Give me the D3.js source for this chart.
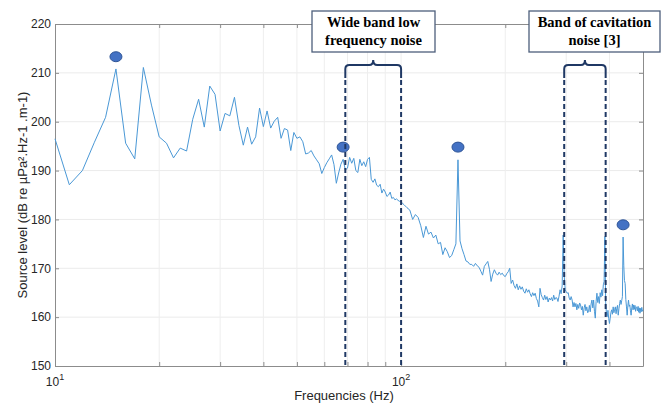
<!DOCTYPE html>
<html>
<head>
<meta charset="utf-8">
<script src="https://cdn.jsdelivr.net/npm/d3@7"></script>
<style>
  body { margin: 0; background: #fff; }
  svg { display: block; }
</style>
</head>
<body>
<div class="chart"></div>
<script>
// source level spectrum, 1 Hz bins from 10 to 99 Hz
const lowLevels = [
  196.5, 187.1, 190.0, 195.8, 200.9, 210.8, 195.6, 192.4, 211.1, 203.4,
  196.9, 195.6, 192.6, 194.6, 194.0, 200.5, 204.6, 198.9, 207.3, 205.6,
  198.1, 201.7, 201.2, 205.0, 199.2, 195.2, 198.9, 195.4, 196.9, 202.8,
  199.0, 202.2, 198.7, 200.1, 200.9, 196.6, 198.6, 198.3, 194.1, 197.8,
  196.6, 196.9, 195.9, 193.4, 193.6, 194.1, 193.0, 192.2, 191.4, 189.4,
  190.6, 191.6, 192.4, 193.2, 191.2, 187.4, 189.5, 191.3, 192.3, 190.1,
  190.5, 192.7, 191.5, 192.5, 190.0, 189.6, 192.3, 191.0, 191.8, 190.8,
  192.3, 192.7, 188.2, 187.6, 188.3, 187.0, 186.7, 187.2, 185.4, 186.2,
  185.6, 184.7, 185.0, 185.6, 184.3, 184.5, 184.0, 184.2, 183.9, 183.7
]
// 2 Hz bins from 100 to 160 Hz
const midLevels = [
  183.6, 183.0, 182.4, 181.9, 180.0, 181.0, 180.4, 178.7, 176.3, 178.6,
  177.0, 177.4, 176.2, 176.8, 175.0, 175.3, 172.8, 174.2, 173.4, 172.2,
  172.6, 173.8, 175.0, 192.2, 175.6, 174.0, 172.8, 171.5, 171.3, 170.8,
  170.8
]
// 2 Hz bins from 162 to 300 Hz
const upperLevels = [
  170.4, 171.0, 170.5, 170.2, 169.4, 168.6, 170.4, 170.9, 171.4, 169.8,
  167.3, 168.8, 169.7, 169.0, 168.6, 169.2, 168.7, 169.0, 168.5, 168.3,
  168.9, 169.3, 170.0, 166.9, 167.6, 166.5, 165.9, 166.8, 165.6, 166.4,
  165.7, 166.2, 165.3, 164.9, 165.8, 165.1, 165.6, 164.8, 164.2, 165.0,
  164.4, 164.9, 163.8, 163.3, 162.1, 165.9, 164.6, 164.0, 163.5, 164.5,
  163.6, 164.2, 163.1, 163.9, 163.5, 164.0, 163.3, 164.5, 163.6, 164.0,
  163.9, 163.2, 164.3, 165.6, 164.8, 166.4, 176.8, 168.5, 165.6, 165.2
]
// 2 Hz bins from 302 to 500 Hz
const highLevels = [
  164.9, 165.0, 163.9, 163.5, 164.2, 163.5, 162.1, 163.0, 162.1, 162.8,
  161.5, 162.6, 161.8, 162.9, 162.5, 161.5, 162.2, 160.4, 161.9, 162.6,
  161.3, 162.1, 160.9, 161.1, 162.4, 161.1, 162.7, 163.5, 161.9, 163.5,
  161.2, 159.8, 163.2, 164.9, 163.0, 164.2, 162.8, 165.0, 164.1, 165.6,
  164.4, 166.6, 167.3, 176.5, 163.0, 160.8, 160.1, 161.4, 159.7, 158.7,
  159.8, 161.0, 161.5, 160.6, 162.1, 160.9, 161.6, 162.1, 160.7, 161.8,
  162.4, 160.4, 161.7, 162.8, 163.5, 162.6, 163.4, 164.2, 176.4, 170.5,
  167.5, 166.9, 163.6, 162.1, 160.4, 162.3, 163.5, 162.2, 162.5, 161.3,
  160.4, 161.9, 162.7, 161.5, 162.5, 161.6, 162.4, 161.2, 162.0, 162.1,
  161.3, 162.2, 161.0, 161.9, 160.8, 161.8, 161.1, 162.0, 161.2, 161.5
]

const peakFreqs = [15, 68, 146, 438]
const peakLevels = [213.3, 194.8, 194.8, 178.9]

const bandEdges = [[69, 100], [296, 390]]
const bandLabels = [["Wide band low", "frequency noise"], ["Band of cavitation", "noise [3]"]]

const yTicks = [150, 160, 170, 180, 190, 200, 210, 220]
const xGridTicks = [20, 30, 40, 50, 60, 70, 80, 90, 100, 200, 300, 400]
const xLabelTicks = [10, 100]

const spectrum = [
  ...d3.range(10, 100).map((f, i) => [f, lowLevels[i]]),
  ...d3.range(100, 161, 2).map((f, i) => [f, midLevels[i]]),
  ...d3.range(162, 301, 2).map((f, i) => [f, upperLevels[i]]),
  ...d3.range(302, 501, 2).map((f, i) => [f, highLevels[i]])
]

const W = 662, H = 404
const mLeft = 55, mRight = 643, mTop = 24, mBottom = 366
const axisColor = "#8c8c8c"
const textColor = "#262626"
const navy = "#1f3864"

const x = d3.scaleLog().domain([10, 500]).range([mLeft, mRight])
const y = d3.scaleLinear().domain([150, 220]).range([mBottom, mTop])

const svg = d3.select(".chart").append("svg")
  .attr("width", W).attr("height", H)
  .style("font-family", "'Liberation Sans', Arial, sans-serif")

// grid
svg.append("g")
  .selectAll("line").data(yTicks.slice(1, -1)).enter().append("line")
  .attr("x1", mLeft).attr("x2", mRight)
  .attr("y1", d => y(d)).attr("y2", d => y(d))
  .attr("stroke", "#ebebeb")
svg.append("g")
  .selectAll("line").data(xGridTicks).enter().append("line")
  .attr("y1", mTop).attr("y2", mBottom)
  .attr("x1", d => x(d)).attr("x2", d => x(d))
  .attr("stroke", "#eeeeee")

// axes (MATLAB-style inward ticks, box on)
const styleAxis = g => {
  g.select(".domain").attr("stroke", axisColor)
  g.selectAll(".tick line").attr("stroke", axisColor)
  g.selectAll(".tick text").attr("fill", textColor).style("font-size", "12px")
}

svg.append("g")
  .attr("transform", `translate(${mLeft},0)`)
  .call(d3.axisLeft(y).tickValues(yTicks).tickSizeInner(-4).tickSizeOuter(0).tickPadding(4))
  .call(styleAxis)

svg.append("g")
  .attr("transform", `translate(${mRight},0)`)
  .call(d3.axisRight(y).tickValues(yTicks).tickSizeInner(-4).tickSizeOuter(0).tickFormat(""))
  .call(styleAxis)

svg.append("g")
  .attr("transform", `translate(0,${mTop})`)
  .call(d3.axisTop(x).tickValues(xGridTicks).tickSizeInner(-4).tickSizeOuter(0).tickFormat(""))
  .call(styleAxis)

const xAxis = svg.append("g")
  .attr("transform", `translate(0,${mBottom})`)
  .call(d3.axisBottom(x).tickValues(xGridTicks).tickSizeInner(-4).tickSizeOuter(0).tickFormat(""))
  .call(styleAxis)

// 10^1, 10^2 labels
xAxis.selectAll("text.pow").data(xLabelTicks).enter().append("text")
  .attr("class", "pow")
  .attr("x", d => x(d))
  .attr("y", 20)
  .attr("text-anchor", "middle")
  .attr("fill", textColor)
  .style("font-size", "12px")
  .each(function(d){
    const t = d3.select(this)
    t.append("tspan").text("10")
    t.append("tspan").attr("dy", -6).style("font-size", "9px").text(Math.round(Math.log10(d)))
  })

// axis titles
svg.append("text")
  .attr("x", (mLeft + mRight) / 2 - 5)
  .attr("y", 400)
  .attr("text-anchor", "middle")
  .attr("fill", textColor)
  .style("font-size", "13px")
  .text("Frequencies (Hz)")

svg.append("text")
  .attr("transform", `translate(27,${(mTop + mBottom) / 2}) rotate(-90)`)
  .attr("text-anchor", "middle")
  .attr("fill", textColor)
  .style("font-size", "13px")
  .text("Source level (dB re µPa².Hz-1 .m-1)")

// spectrum line
const line = d3.line().x(d => x(d[0])).y(d => y(d[1]))
svg.append("path")
  .datum(spectrum)
  .attr("d", line)
  .attr("fill", "none")
  .attr("stroke", "#4a98d6")
  .attr("stroke-width", 1)
  .attr("stroke-linejoin", "round")

// peak markers
svg.selectAll("ellipse.peak")
  .data(peakFreqs.map((f, i) => [f, peakLevels[i]]))
  .enter().append("ellipse")
  .attr("cx", d => x(d[0]))
  .attr("cy", d => y(d[1]))
  .attr("rx", 6).attr("ry", 5)
  .attr("fill", "#4472c4")
  .attr("stroke", "#2f5597")
  .attr("stroke-width", 1)

// band annotations
const braceTop = 65, braceEnd = 78, braceTip = 60
const boxes = [{x: 312, w: 123}, {x: 529, w: 131}]
const boxTop = 11, boxH = 41

bandEdges.forEach((b, i) => {
  const xa = x(b[0]), xb = x(b[1]), xm = (xa + xb) / 2

  svg.selectAll(null).data(b).enter().append("line")
    .attr("x1", d => x(d)).attr("x2", d => x(d))
    .attr("y1", braceEnd + 2).attr("y2", mBottom)
    .attr("stroke", navy)
    .attr("stroke-width", 2)
    .attr("stroke-dasharray", "5,3")

  const p = d3.path()
  p.moveTo(xa, braceEnd)
  p.lineTo(xa, braceTop + 4)
  p.quadraticCurveTo(xa, braceTop, xa + 4, braceTop)
  p.lineTo(xm - 4, braceTop)
  p.quadraticCurveTo(xm, braceTop, xm, braceTip)
  p.quadraticCurveTo(xm, braceTop, xm + 4, braceTop)
  p.lineTo(xb - 4, braceTop)
  p.quadraticCurveTo(xb, braceTop, xb, braceTop + 4)
  p.lineTo(xb, braceEnd)
  svg.append("path")
    .attr("d", p.toString())
    .attr("fill", "none")
    .attr("stroke", navy)
    .attr("stroke-width", 2)

  const bx = boxes[i]
  svg.append("rect")
    .attr("x", bx.x).attr("y", boxTop)
    .attr("width", bx.w).attr("height", boxH)
    .attr("fill", "#fff")
    .attr("stroke", "#4d5f7c")
    .attr("stroke-width", 1.3)

  svg.append("text")
    .attr("text-anchor", "middle")
    .attr("font-family", "'Liberation Serif', 'Times New Roman', serif")
    .attr("font-weight", "bold")
    .style("font-size", "14.5px")
    .attr("fill", "#000")
    .selectAll("tspan").data(bandLabels[i]).enter().append("tspan")
    .attr("x", bx.x + bx.w / 2)
    .attr("y", (d, j) => 27 + j * 18)
    .text(d => d)
})
</script>
</body>
</html>
